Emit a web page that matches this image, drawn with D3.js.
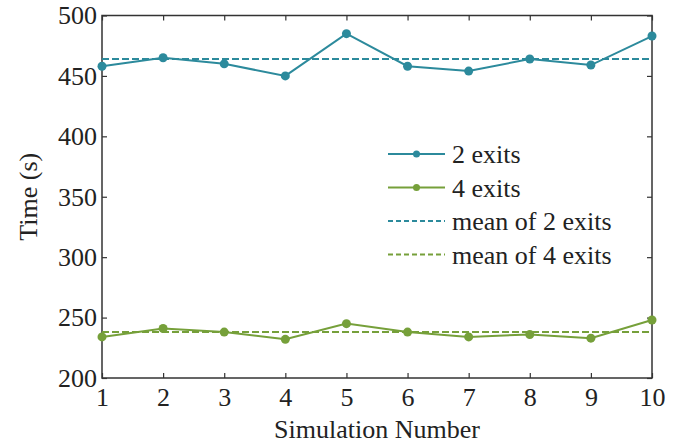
<!DOCTYPE html>
<html><head><meta charset="utf-8">
<script src="https://cdn.jsdelivr.net/npm/d3@7"></script>
<style>body{margin:0;background:#fff} text{font-family:"Liberation Serif","Times New Roman",serif;}</style>
</head><body>
<svg id="c" width="681" height="446"></svg>
<script>
const simulations = [1,2,3,4,5,6,7,8,9,10];
const exits2 = [458,465,460,450,485,458,454,464,459,483];
const exits4 = [234,241,238,232,245,238,234,236,233,248];
const mean2 = 464;
const mean4 = 238;
const yTicks = [200,250,300,350,400,450,500];
const seriesNames = ["2 exits","4 exits","mean of 2 exits","mean of 4 exits"];

const c2 = "#2c8a9c", c4 = "#76a03a";
const font = "Liberation Serif";
const m = {l:102, r:652, t:15.5, b:378};
const svg = d3.select("#c");
const x = d3.scaleLinear().domain([1,10]).range([m.l,m.r]);
const y = d3.scaleLinear().domain([200,500]).range([m.b,m.t]);
const axisCol = "#333";

svg.append("rect").attr("x",m.l).attr("y",m.t).attr("width",m.r-m.l).attr("height",m.b-m.t)
  .attr("fill","none").attr("stroke",axisCol).attr("stroke-width",1.5);

const tl = 5;
const gx = svg.append("g").attr("transform",`translate(0,${m.b})`)
  .call(d3.axisBottom(x).tickValues(simulations).tickSizeInner(-tl).tickSizeOuter(0).tickPadding(10));
const gxt = svg.append("g").attr("transform",`translate(0,${m.t})`)
  .call(d3.axisTop(x).tickValues(simulations).tickSizeInner(-tl).tickSizeOuter(0).tickFormat(""));
const gy = svg.append("g").attr("transform",`translate(${m.l},0)`)
  .call(d3.axisLeft(y).tickValues(yTicks).tickSizeInner(-tl).tickSizeOuter(0).tickPadding(5));
const gyr = svg.append("g").attr("transform",`translate(${m.r},0)`)
  .call(d3.axisRight(y).tickValues(yTicks).tickSizeInner(-tl).tickSizeOuter(0).tickFormat(""));
[gx,gxt,gy,gyr].forEach(g=>{
  g.attr("font-family",font).attr("font-size",26);
  g.select(".domain").remove();
  g.selectAll("line").attr("stroke",axisCol).attr("stroke-width",1.2);
  g.selectAll("text").attr("fill","#222");
});
gx.selectAll("text").attr("dy","0.71em");

[[mean2,c2],[mean4,c4]].forEach(([v,col])=>{
  svg.append("line").attr("x1",m.l).attr("x2",m.r).attr("y1",y(v)).attr("y2",y(v))
    .attr("stroke",col).attr("stroke-width",2).attr("stroke-dasharray","7,3");
});

const line = d3.line().x((d,i)=>x(simulations[i])).y(d=>y(d));
[[exits2,c2],[exits4,c4]].forEach(([vals,col])=>{
  svg.append("path").datum(vals).attr("d",line).attr("fill","none").attr("stroke",col).attr("stroke-width",2);
  svg.append("g").selectAll("circle").data(vals).join("circle")
    .attr("cx",(d,i)=>x(simulations[i])).attr("cy",d=>y(d)).attr("r",4.5).attr("fill",col);
});

svg.append("text").attr("x",(m.l+m.r)/2).attr("y",438).attr("text-anchor","middle")
  .attr("font-family",font).attr("font-size",26).attr("fill","#222").text("Simulation Number");
svg.append("text").attr("transform",`translate(37,${(m.t+m.b)/2}) rotate(-90)`).attr("text-anchor","middle")
  .attr("font-family",font).attr("font-size",26).attr("fill","#222").text("Time (s)");

const leg = svg.append("g");
const legItems = [
  {name:seriesNames[0], col:c2, dash:null, marker:true},
  {name:seriesNames[1], col:c4, dash:null, marker:true},
  {name:seriesNames[2], col:c2, dash:"5,3", marker:false},
  {name:seriesNames[3], col:c4, dash:"5,3", marker:false}
];
const ly0 = 154, ldy = 33.5;
legItems.forEach((it,i)=>{
  const yy = ly0 + i*ldy;
  const ln = leg.append("line").attr("x1",388).attr("x2",445).attr("y1",yy).attr("y2",yy)
    .attr("stroke",it.col).attr("stroke-width",2);
  if (it.dash) ln.attr("stroke-dasharray",it.dash);
  if (it.marker) leg.append("circle").attr("cx",416.5).attr("cy",yy).attr("r",3.5).attr("fill",it.col);
  leg.append("text").attr("x",452).attr("y",yy).attr("dy","0.35em")
    .attr("font-family",font).attr("font-size",26).attr("fill","#222").text(it.name);
});
</script>
</body></html>
